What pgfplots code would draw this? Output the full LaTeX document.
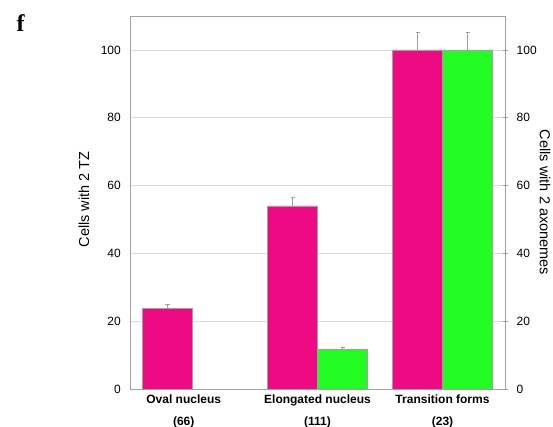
\documentclass[border=0pt]{standalone}
\usepackage{pgfplots}
\pgfplotsset{compat=1.18}
\usepackage{fontspec}
\setmainfont{Liberation Sans}
\newfontfamily\serifbold{Liberation Serif}
\definecolor{mag}{RGB}{238,10,130}
\definecolor{grn}{RGB}{34,252,34}
\definecolor{axgray}{RGB}{160,160,160}
\definecolor{gridgray}{RGB}{218,218,218}
\begin{document}
\begin{tikzpicture}
\useasboundingbox (-130bp,-38bp) rectangle (423bp,389bp);
\begin{axis}[
  at={(0,0)}, anchor=south west,
  width=375bp, height=373bp, scale only axis,
  xmin=-0.5, xmax=2.5, ymin=0, ymax=110,
  ytick={0,20,...,100},
  xtick={-0.07,1,2},
  xticklabels={Oval nucleus\\[7.4bp](66), Elongated nucleus\\[7.4bp](111), Transition forms\\[7.4bp](23)},
  ymajorgrids, grid style={gridgray, line width=0.8bp},
  axis line style={axgray, line width=0.8bp},
  major tick length=0pt,
  ytick pos=left, xtick pos=bottom,
  /pgf/number format/assume math mode=true,
  yticklabel style={font=\fontsize{12bp}{14bp}\selectfont, inner sep=0pt, xshift=-9bp},
  xticklabel style={font=\bfseries\fontsize{12bp}{14bp}\selectfont, align=center, inner sep=0pt, yshift=-6bp},
  every axis y label/.style={at={(rel axis cs:0,0.508)}, xshift=-46bp, rotate=90, anchor=center, font=\fontsize{14.5bp}{16bp}\selectfont},
  ylabel={Cells with 2 TZ},
  ybar, bar width=0.4,
]
\addplot[fill=mag, draw=axgray, line width=0.6bp, bar shift=-0.2,
  error bars/.cd, y dir=plus, y explicit,
  error bar style={axgray, line width=0.6bp},
  error mark options={axgray, mark size=2bp, rotate=90, line width=0.6bp}]
  coordinates {(0,23.8) +- (0,1.2) (1,54) +- (0,2.6) (2,100) +- (0,5.1)};
\addplot[fill=grn, draw=axgray, line width=0.6bp, bar shift=0.2,
  error bars/.cd, y dir=plus, y explicit,
  error bar style={axgray, line width=0.6bp},
  error mark options={axgray, mark size=2bp, rotate=90, line width=0.6bp}]
  coordinates {(1,11.8) +- (0,0.5) (2,100) +- (0,5.1)};
\end{axis}
\begin{axis}[
  at={(0,0)}, anchor=south west,
  width=375bp, height=373bp, scale only axis,
  xmin=-0.5, xmax=2.5, ymin=0, ymax=110,
  axis y line*=right, axis x line=none,
  ytick={0,20,...,100},
  y axis line style={axgray, line width=0.8bp},
  major tick length=5bp, tick align=center,
  major tick style={axgray, line width=0.8bp},
  /pgf/number format/assume math mode=true,
  yticklabel style={font=\fontsize{12bp}{14bp}\selectfont, inner sep=0pt, xshift=9bp},
  every axis y label/.style={at={(rel axis cs:1,0.5)}, xshift=40bp, rotate=-90, anchor=center, font=\fontsize{14.5bp}{16bp}\selectfont},
  ylabel={Cells with 2 axonemes},
]
\end{axis}
\node[font=\serifbold\bfseries\fontsize{24bp}{26bp}\selectfont, inner sep=0pt] at (-109.5bp,365.5bp) {f};
\end{tikzpicture}
\end{document}
